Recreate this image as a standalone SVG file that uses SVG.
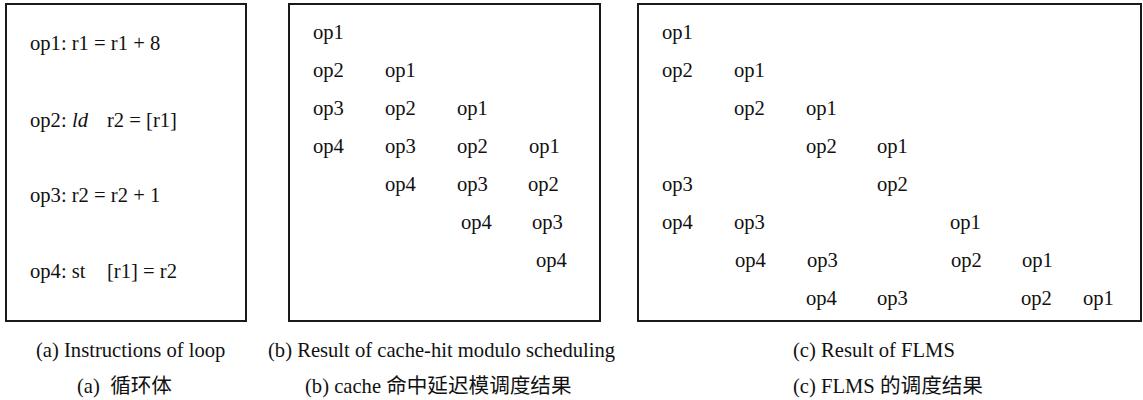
<svg xmlns="http://www.w3.org/2000/svg" width="1143" height="400" viewBox="0 0 1143 400">
<style>
text{font-family:"Liberation Serif","Times New Roman",Tinos,"DejaVu Serif",serif;font-size:20.6px;fill:#111}
.cjk{font-family:"Noto Sans CJK SC","Noto Sans CJK JP",sans-serif}
.box{fill:#fff;stroke:#1a1a1a;stroke-width:2}
.it{font-style:italic}
</style>
<rect width="1143" height="400" fill="#fff"/>
<g id="panel-a">
<rect class="box" x="6" y="4" width="240" height="317"/>
<text x="30" y="50">op1: r1 = r1 + 8</text>
<text y="127"><tspan x="30">op2:</tspan><tspan x="72" class="it">ld</tspan><tspan x="107">r2 = [r1]</tspan></text>
<text x="30" y="202">op3: r2 = r2 + 1</text>
<text y="278"><tspan x="30">op4: st</tspan><tspan x="107">[r1] = r2</tspan></text>
</g>
<g id="panel-b">
<rect class="box" x="289" y="4" width="311" height="317"/>
<text x="313" y="39">op1</text>
<text x="313" y="77">op2</text><text x="385" y="77">op1</text>
<text x="313" y="115">op3</text><text x="385" y="115">op2</text><text x="457" y="115">op1</text>
<text x="313" y="153">op4</text><text x="385" y="153">op3</text><text x="457" y="153">op2</text><text x="529" y="153">op1</text>
<text x="385" y="191">op4</text><text x="457" y="191">op3</text><text x="528" y="191">op2</text>
<text x="461" y="229">op4</text><text x="532" y="229">op3</text>
<text x="536" y="267">op4</text>
</g>
<g id="panel-c">
<rect class="box" x="638" y="4" width="503" height="317"/>
<text x="662" y="39">op1</text>
<text x="662" y="77">op2</text><text x="734" y="77">op1</text>
<text x="734" y="115">op2</text><text x="806" y="115">op1</text>
<text x="806" y="153">op2</text><text x="877" y="153">op1</text>
<text x="662" y="191">op3</text><text x="877" y="191">op2</text>
<text x="662" y="229">op4</text><text x="734" y="229">op3</text><text x="950" y="229">op1</text>
<text x="735" y="267">op4</text><text x="807" y="267">op3</text><text x="951" y="267">op2</text><text x="1022" y="267">op1</text>
<text x="806" y="305">op4</text><text x="877" y="305">op3</text><text x="1021" y="305">op2</text><text x="1083" y="305">op1</text>
</g>
<g id="captions">
<text x="36" y="357">(a) Instructions of loop</text>
<text x="268" y="357">(b) Result of cache-hit modulo scheduling</text>
<text x="793" y="357">(c) Result of FLMS</text>
<text x="77" y="393" xml:space="preserve">(a)  <tspan class="cjk">循环体</tspan></text>
<text x="305" y="393">(b) cache <tspan class="cjk">命中延迟模调度结果</tspan></text>
<text x="793" y="393">(c) FLMS <tspan class="cjk">的调度结果</tspan></text>
</g>
<g id="connectors"/>
</svg>
